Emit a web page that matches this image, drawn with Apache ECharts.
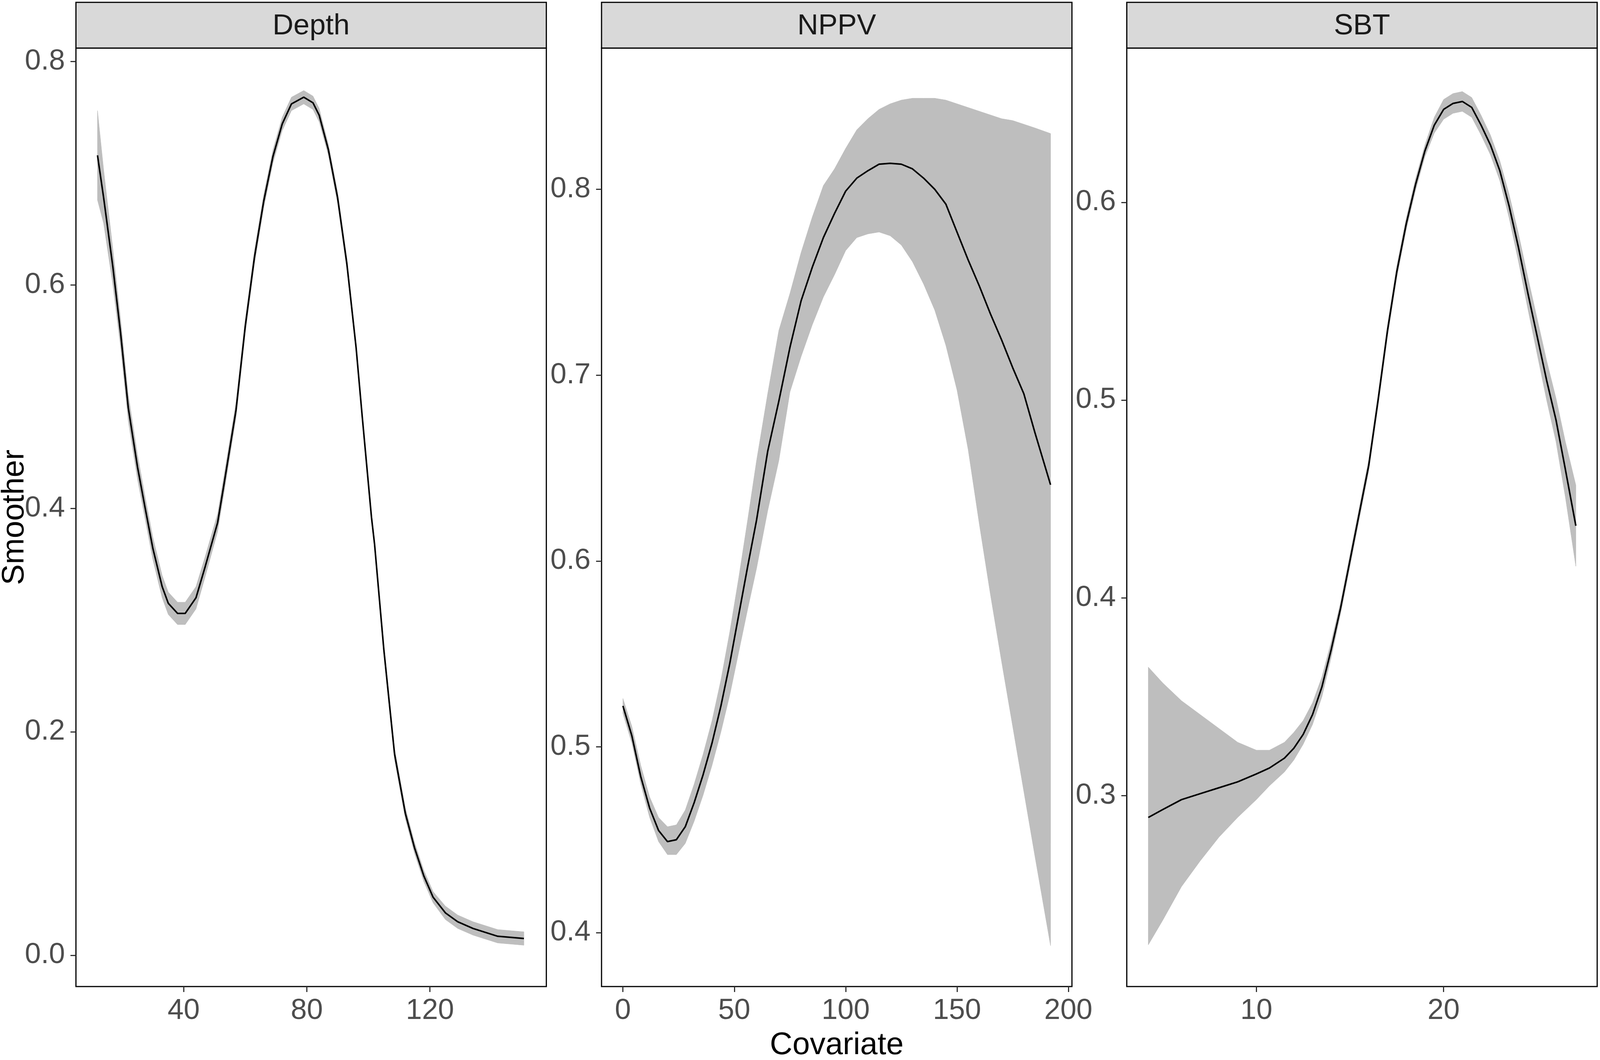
<!DOCTYPE html>
<html>
<head>
<meta charset="utf-8">
<script src="https://cdn.jsdelivr.net/npm/echarts@6/dist/echarts.min.js"></script>
<style>
  html, body { margin: 0; padding: 0; background: #fff; overflow: hidden; }
  #main { width: 100vw; height: 100vh; }
</style>
</head>
<body>
<div id="main"></div>
<script>
// facet names
const panels = ["Depth", "NPPV", "SBT"];

// Depth smoother
const depthX   = [12, 14, 17, 19.5, 22, 25, 27.5, 30, 33, 35, 38, 40.5, 44, 47, 51, 53, 57, 60, 63, 66, 69, 72, 75, 79, 82, 84, 87, 90, 93, 96, 98, 101, 102, 105, 108.5, 112, 115, 118, 121, 125, 129, 134, 142, 150.5];
const depthFit = [0.716, 0.678, 0.616, 0.557, 0.490, 0.437, 0.400, 0.364, 0.330, 0.315, 0.306, 0.306, 0.320, 0.348, 0.387, 0.420, 0.488, 0.563, 0.625, 0.675, 0.715, 0.744, 0.762, 0.768, 0.763, 0.752, 0.721, 0.678, 0.619, 0.544, 0.482, 0.392, 0.368, 0.274, 0.180, 0.127, 0.096, 0.071, 0.052, 0.038, 0.030, 0.024, 0.017, 0.015];
const depthLo  = [0.676, 0.655, 0.600, 0.544, 0.478, 0.426, 0.390, 0.354, 0.320, 0.305, 0.296, 0.296, 0.310, 0.339, 0.379, 0.412, 0.481, 0.557, 0.619, 0.669, 0.709, 0.738, 0.756, 0.762, 0.757, 0.746, 0.716, 0.673, 0.614, 0.540, 0.478, 0.388, 0.364, 0.269, 0.175, 0.122, 0.091, 0.066, 0.047, 0.032, 0.024, 0.018, 0.011, 0.009];
const depthHi  = [0.756, 0.703, 0.632, 0.570, 0.502, 0.448, 0.410, 0.374, 0.340, 0.325, 0.316, 0.316, 0.330, 0.357, 0.395, 0.428, 0.495, 0.569, 0.631, 0.681, 0.721, 0.750, 0.768, 0.774, 0.769, 0.758, 0.726, 0.683, 0.624, 0.548, 0.486, 0.396, 0.372, 0.279, 0.185, 0.132, 0.101, 0.076, 0.057, 0.044, 0.036, 0.030, 0.023, 0.021];

// NPPV smoother
const nppvX   = [0, 4, 8, 12, 16, 20, 24, 28, 32, 36, 40, 44, 48, 52, 56, 60, 65, 70, 75, 80, 85, 90, 95, 100, 105, 110, 115, 120, 125, 130, 135, 140, 145, 150, 155, 160, 165, 170, 175, 180, 185, 192];
const nppvFit = [0.522, 0.506, 0.484, 0.467, 0.455, 0.449, 0.450, 0.457, 0.470, 0.485, 0.502, 0.522, 0.545, 0.571, 0.597, 0.622, 0.659, 0.686, 0.715, 0.740, 0.758, 0.774, 0.787, 0.799, 0.806, 0.810, 0.8135, 0.814, 0.8135, 0.811, 0.806, 0.800, 0.792, 0.777, 0.762, 0.748, 0.733, 0.719, 0.704, 0.690, 0.669, 0.641];
const nppvLo  = [0.518, 0.502, 0.480, 0.462, 0.449, 0.442, 0.442, 0.448, 0.460, 0.474, 0.490, 0.508, 0.528, 0.551, 0.574, 0.596, 0.627, 0.654, 0.691, 0.710, 0.727, 0.742, 0.754, 0.767, 0.774, 0.776, 0.777, 0.775, 0.770, 0.761, 0.749, 0.735, 0.716, 0.692, 0.660, 0.620, 0.582, 0.546, 0.511, 0.476, 0.441, 0.393];
const nppvHi  = [0.526, 0.511, 0.490, 0.473, 0.462, 0.457, 0.458, 0.466, 0.480, 0.496, 0.514, 0.536, 0.562, 0.591, 0.622, 0.654, 0.690, 0.724, 0.744, 0.766, 0.785, 0.802, 0.811, 0.822, 0.832, 0.838, 0.843, 0.846, 0.848, 0.849, 0.849, 0.849, 0.848, 0.846, 0.844, 0.842, 0.840, 0.838, 0.837, 0.835, 0.833, 0.830];

// SBT smoother
const sbtX   = [4.23, 5, 6, 7, 8, 9, 10, 10.7, 11.5, 12, 12.5, 13, 13.5, 14, 14.5, 15, 15.5, 16, 16.5, 17, 17.5, 18, 18.5, 19, 19.5, 20, 20.5, 21, 21.5, 22, 22.5, 23, 23.5, 24, 24.5, 25, 25.5, 26, 26.5, 27.06];
const sbtFit = [0.289, 0.293, 0.298, 0.301, 0.304, 0.307, 0.311, 0.314, 0.319, 0.324, 0.331, 0.341, 0.355, 0.374, 0.395, 0.419, 0.443, 0.467, 0.500, 0.535, 0.565, 0.589, 0.609, 0.626, 0.639, 0.647, 0.650, 0.651, 0.648, 0.639, 0.629, 0.616, 0.598, 0.577, 0.554, 0.532, 0.510, 0.490, 0.465, 0.4365];
const sbtLo  = [0.2246, 0.237, 0.254, 0.267, 0.279, 0.289, 0.298, 0.305, 0.312, 0.318, 0.326, 0.336, 0.350, 0.370, 0.392, 0.416, 0.440, 0.464, 0.497, 0.532, 0.562, 0.586, 0.606, 0.623, 0.635, 0.642, 0.645, 0.646, 0.643, 0.634, 0.624, 0.611, 0.592, 0.570, 0.546, 0.523, 0.500, 0.479, 0.451, 0.416];
const sbtHi  = [0.365, 0.357, 0.348, 0.341, 0.334, 0.327, 0.323, 0.323, 0.327, 0.332, 0.338, 0.347, 0.360, 0.378, 0.398, 0.422, 0.446, 0.470, 0.503, 0.538, 0.568, 0.592, 0.612, 0.629, 0.643, 0.652, 0.655, 0.656, 0.653, 0.644, 0.634, 0.621, 0.604, 0.584, 0.562, 0.541, 0.520, 0.501, 0.479, 0.457];

// axis limits and tick labels
const depthXRange = [5.0, 157.8],  depthYRange = [-0.028, 0.812];
const nppvXRange  = [-9.6, 201.6], nppvYRange  = [0.371, 0.876];
const sbtXRange   = [3.08, 28.2],  sbtYRange   = [0.2035, 0.678];
const depthXTicks = [40, 80, 120], depthYTicks = [0.0, 0.2, 0.4, 0.6, 0.8];
const nppvXTicks  = [0, 50, 100, 150, 200], nppvYTicks = [0.4, 0.5, 0.6, 0.7, 0.8];
const sbtXTicks   = [10, 20], sbtYTicks = [0.3, 0.4, 0.5, 0.6];

const chart = echarts.init(document.getElementById("main"), null, { renderer: "canvas" });
// layout was measured on a 4551x2713 picture; scale it to the real viewport
const W = chart.getWidth(), H = chart.getHeight();
const sx = W / 4551, sy = H / 2713;

const FONT = "Liberation Sans, Arial, sans-serif";
const panelLeft = [216, 1711, 3205].map(function (v) { return v * sx; });
const panelW = 1338 * sx;
const plotTop = 123 * sy, plotBottom = 2525 * sy, stripTop = 6 * sy;

const sets = [
  { x: depthX, fit: depthFit, lo: depthLo, hi: depthHi, xr: depthXRange, yr: depthYRange, xt: depthXTicks, yt: depthYTicks },
  { x: nppvX, fit: nppvFit, lo: nppvLo, hi: nppvHi, xr: nppvXRange, yr: nppvYRange, xt: nppvXTicks, yt: nppvYTicks },
  { x: sbtX, fit: sbtFit, lo: sbtLo, hi: sbtHi, xr: sbtXRange, yr: sbtYRange, xt: sbtXTicks, yt: sbtYTicks }
];

const grid = [], xAxis = [], yAxis = [], series = [], graphic = [];

sets.forEach(function (s, i) {
  grid.push({
    left: panelLeft[i], width: panelW, top: plotTop, height: plotBottom - plotTop,
    show: true, borderColor: "#000", borderWidth: 3, backgroundColor: "#fff"
  });
  xAxis.push({
    type: "value", gridIndex: i, min: s.xr[0], max: s.xr[1],
    axisLine: { show: false, onZero: false },
    splitLine: { show: false },
    axisTick: { show: true, customValues: s.xt, length: 14, lineStyle: { color: "#333", width: 3 } },
    axisLabel: { customValues: s.xt, margin: 26, fontSize: 74, color: "#4D4D4D", fontFamily: FONT,
      formatter: function (v) { return String(Math.round(v)); } }
  });
  yAxis.push({
    type: "value", gridIndex: i, min: s.yr[0], max: s.yr[1],
    axisLine: { show: false, onZero: false },
    splitLine: { show: false },
    axisTick: { show: true, customValues: s.yt, length: 14, lineStyle: { color: "#333", width: 3 } },
    axisLabel: { customValues: s.yt, margin: 28, fontSize: 74, color: "#4D4D4D", fontFamily: FONT,
      formatter: function (v) { return v.toFixed(1); } }
  });

  // confidence band as one polygon through the axis scales
  series.push({
    type: "custom", xAxisIndex: i, yAxisIndex: i, silent: true, z: 1,
    data: s.x.map(function (x, k) { return [x, s.lo[k], s.hi[k]]; }),
    encode: { x: 0, y: [1, 2] },
    renderItem: function (params, api) {
      if (params.dataIndex !== 0) return null;
      const upper = [], lower = [];
      for (let k = 0; k < s.x.length; k++) {
        upper.push(api.coord([s.x[k], s.hi[k]]));
        lower.unshift(api.coord([s.x[k], s.lo[k]]));
      }
      return {
        type: "polygon",
        shape: { points: upper.concat(lower) },
        style: { fill: "#BEBEBE", stroke: "#BEBEBE", lineWidth: 1 }
      };
    }
  });
  series.push({
    type: "line", xAxisIndex: i, yAxisIndex: i,
    data: s.x.map(function (x, k) { return [x, s.fit[k]]; }),
    showSymbol: false, lineStyle: { color: "#000", width: 4 }, silent: true, z: 3
  });

  // facet strip
  graphic.push({
    type: "rect", shape: { x: panelLeft[i], y: stripTop, width: panelW, height: plotTop - stripTop },
    style: { fill: "#D9D9D9", stroke: "#000", lineWidth: 3 }, z: 10
  });
  graphic.push({
    type: "text", x: panelLeft[i] + panelW / 2, y: (stripTop + plotTop) / 2 + 3,
    style: { text: panels[i], fontSize: 74, fontFamily: FONT, fill: "#1A1A1A", align: "center", verticalAlign: "middle" }, z: 11
  });
});

// axis titles
graphic.push({
  type: "text", x: 42 * sx, y: (plotTop + plotBottom) / 2, rotation: Math.PI / 2,
  style: { text: "Smoother", fontSize: 80, fontFamily: FONT, fill: "#000", align: "center", verticalAlign: "middle" }
});
graphic.push({
  type: "text", x: panelLeft[1] + panelW / 2, y: 2676 * sy,
  style: { text: "Covariate", fontSize: 80, fontFamily: FONT, fill: "#000", align: "center", verticalAlign: "middle" }
});

chart.setOption({
  backgroundColor: "#fff",
  animation: false,
  grid: grid,
  xAxis: xAxis,
  yAxis: yAxis,
  series: series,
  graphic: graphic
});
</script>
</body>
</html>
